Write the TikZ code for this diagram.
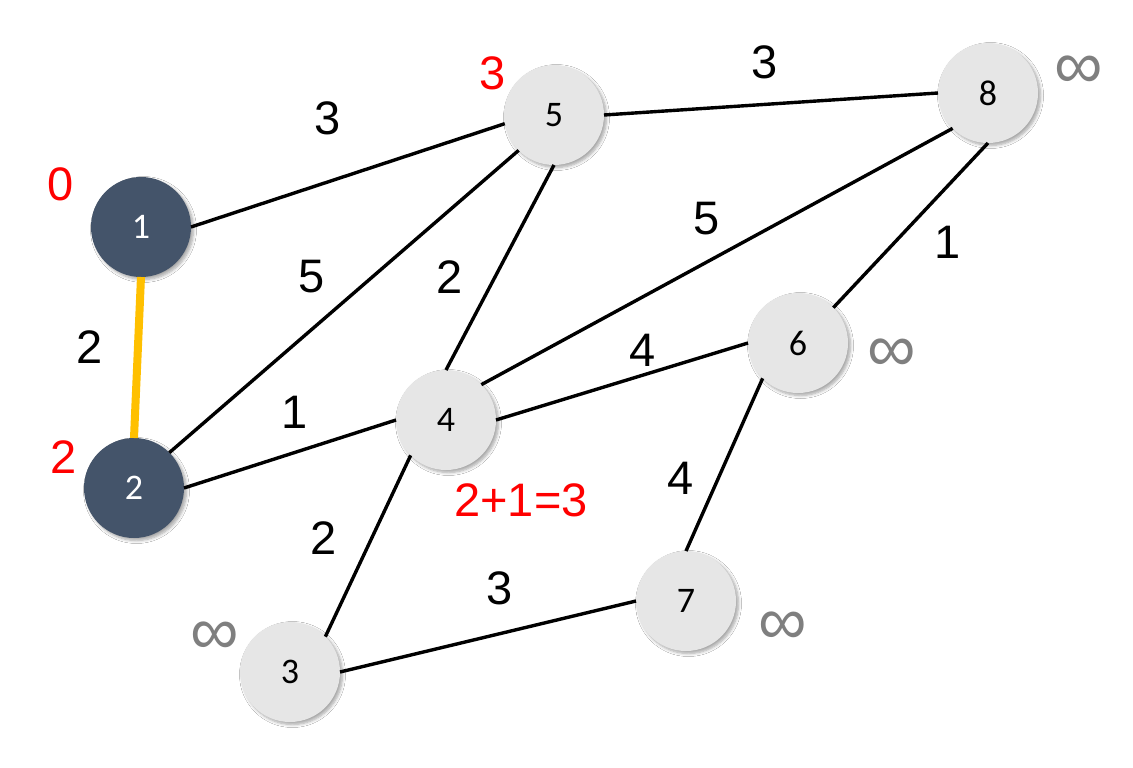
\documentclass[tikz,border=0pt]{standalone}
\usepackage{fontspec}
\setmainfont{Liberation Sans}
\newfontfamily\nodefont{Carlito}
\usetikzlibrary{shadows.blur}
\definecolor{darknode}{HTML}{44546A}
\definecolor{lightnode}{HTML}{E6E6E6}
\definecolor{edgeorange}{HTML}{FFC000}
\definecolor{infgray}{HTML}{7F7F7F}
\definecolor{distred}{HTML}{FF0000}
\tikzset{
  x=1pt, y=1pt,
  vert/.style={circle, minimum size=100pt, inner sep=0pt, outer sep=0pt,
    font=\nodefont\fontsize{36}{38}\selectfont,
    blur shadow={shadow xshift=2.5pt, shadow yshift=-2.5pt, shadow blur steps=6, shadow opacity=35, shadow blur radius=3pt}},
  lightv/.style={vert, fill=lightnode, text=black},
  darkv/.style={vert, fill=darknode, text=white},
  edge/.style={draw=black, line width=3.4pt},
  chosen/.style={draw=edgeorange, line width=8pt},
  weight/.style={font=\fontsize{47}{50}\selectfont, text=black, inner sep=0pt},
  dist/.style={font=\fontsize{47}{50}\selectfont, text=distred, inner sep=0pt},
  inf/.style={font=\fontsize{68}{70}\selectfont, text=infgray, inner sep=0pt}
}
\begin{document}
\begin{tikzpicture}
\useasboundingbox (0,0) rectangle (1133,-768);
\fill[white] (0,0) rectangle (1133,-768);
% vertices
\node[darkv]  (n1) at (141,-227) {1};
\node[darkv]  (n2) at (134,-488) {2};
\node[lightv] (n5) at (554,-115) {5};
\node[lightv] (n8) at (988,-93)  {8};
\node[lightv] (n6) at (798,-343) {6};
\node[lightv] (n4) at (446,-420) {4};
\node[lightv] (n7) at (686,-601) {7};
\node[lightv] (n3) at (290,-672) {3};
% edges
\draw[chosen] (n1.south) -- (n2.north);
\draw[edge] (n1.east) -- (n5.190);
\draw[edge] (n2.45) -- (n5.225);
\draw[edge] (n2.east) -- (n4.west);
\draw[edge] (n5.south) -- (n4.north);
\draw[edge] (n5.east) -- (n8.west);
\draw[edge] (n4.45) -- (n8.225);
\draw[edge] (n4.east) -- (n6.west);
\draw[edge] (n6.45) -- (n8.south);
\draw[edge] (n6.225) -- (n7.north);
\draw[edge] (n3.45) -- (n4.225);
\draw[edge] (n3.east) -- (n7.west);
% weights
\node[weight] (w15) at (328,-118) {3};
\node[weight] (w58) at (765,-62)  {3};
\node[weight] (w12) at (90,-347)  {2};
\node[weight] (w25) at (312,-277) {5};
\node[weight] (w54) at (450,-277) {2};
\node[weight] (w48) at (707,-219) {5};
\node[weight] (w68) at (948,-242) {1};
\node[weight] (w46) at (643,-350) {4};
\node[weight] (w24) at (295,-412) {1};
\node[weight] (w67) at (681,-478) {4};
\node[weight] (w34) at (324,-538) {2};
\node[weight] (w37) at (500,-588) {3};
% distances
\node[dist] (d1) at (61,-184) {0};
\node[dist] (d2) at (64,-457) {2};
\node[dist] (d5) at (493,-73) {3};
\node[dist] (d4) at (521,-500) {2+1=3};
\node[inf] (i8) at (1079,-72) {∞};
\node[inf] (i6) at (892,-355) {∞};
\node[inf] (i7) at (783,-628) {∞};
\node[inf] (i3) at (215,-638) {∞};
\end{tikzpicture}
\end{document}
